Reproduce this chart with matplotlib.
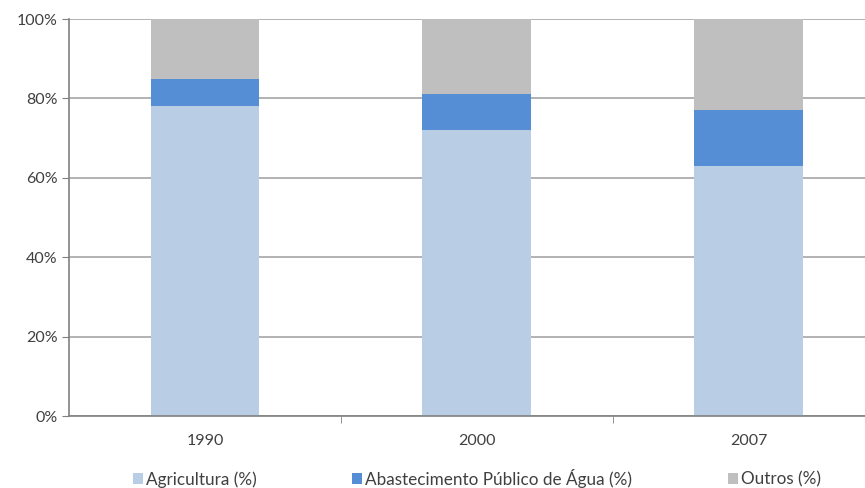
import matplotlib.pyplot as plt
from matplotlib.patches import Patch
from matplotlib.ticker import PercentFormatter

# usos da água por ano (%)
anos = ["1990", "2000", "2007"]
agricultura = [78, 72, 63]
abastecimento = [7, 9, 14]
outros = [15, 19, 23]

series = ["Agricultura (%)", "Abastecimento Público de Água (%)", "Outros (%)"]
cores = ["#B9CDE5", "#558ED5", "#BFBFBF"]

plt.rcParams['font.family'] = ['Lato', 'DejaVu Sans']

fig = plt.figure(figsize=(8.65, 4.88), dpi=100)
ax = fig.add_axes([0.0798, 0.1475, 0.943, 0.8135])

x = range(len(anos))
base = [0] * len(anos)
for valores, cor in zip([agricultura, abastecimento, outros], cores):
    ax.bar(x, valores, width=0.4, bottom=base, color=cor, zorder=2)
    base = [b + v for b, v in zip(base, valores)]

ax.set_ylim(0, 100)
ax.set_xlim(-0.5, len(anos) - 0.5)
ax.set_yticks(range(0, 101, 20))
ax.yaxis.set_major_formatter(PercentFormatter(decimals=0))
ax.grid(axis='y', color='#A6A6A6', linewidth=1.2, zorder=0)

ax.set_xticks(list(x))
ax.set_xticklabels(anos)
ax.set_xticks([0.5, 1.5], minor=True)
ax.tick_params(axis='x', which='major', length=0, pad=13, labelsize=11.5, labelcolor='#404040')
ax.tick_params(axis='x', which='minor', length=5, color='#808080', direction='out')
ax.tick_params(axis='y', length=5, color='#808080', direction='out', labelsize=11.5,
               labelcolor='#404040', pad=3)

for lado in ['top', 'right']:
    ax.spines[lado].set_visible(False)
for lado in ['left', 'bottom']:
    ax.spines[lado].set_color('#808080')
    ax.spines[lado].set_linewidth(1.2)

handles = [Patch(facecolor=c, edgecolor='none') for c in cores]
fig.legend(handles, series, loc='center left', bbox_to_anchor=(133 / 865, 0.02),
           ncol=3, frameon=False, fontsize=12.3, handlelength=0.6,
           handleheight=0.6, handletextpad=0.15, columnspacing=5.6,
           borderpad=0, borderaxespad=0, labelcolor='#404040')

fig.savefig("out.png", dpi=100)
